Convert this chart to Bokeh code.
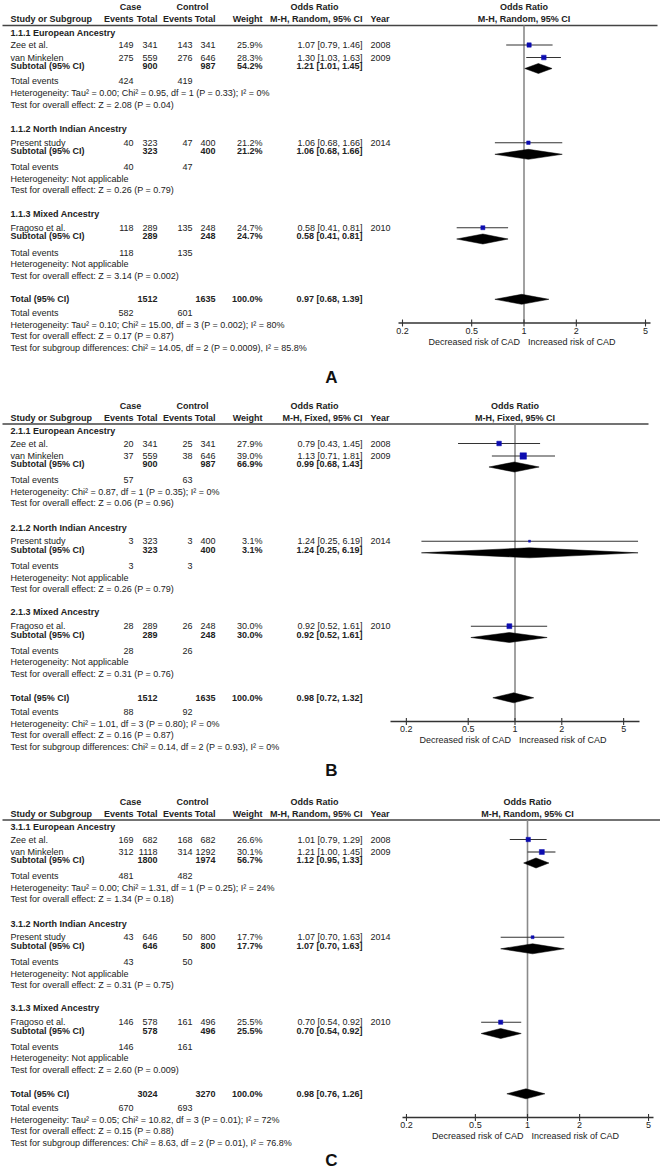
import math
from bokeh.plotting import figure
from bokeh.models import Range1d, LogScale
from bokeh.embed import file_html
from bokeh.resources import INLINE
from bokeh.core.properties import value

# ---------------- data ----------------
studies = ["Zee et al.", "van Minkelen", "Present study", "Fragoso et al."]
years = ["2008", "2009", "2014", "2010"]
ancestries = ["European Ancestry", "North Indian Ancestry", "Mixed Ancestry"]
panel_letters = ["A", "B", "C"]
group_prefixes = ["1.1", "2.1", "3.1"]
methods = ["M-H, Random, 95% CI", "M-H, Fixed, 95% CI", "M-H, Random, 95% CI"]
or_ticks = [0.2, 0.5, 1, 2, 5]
or_tick_labels = ["0.2", "0.5", "1", "2", "5"]
direction_labels = ["Decreased risk of CAD", "Increased risk of CAD"]

# Panel A
a_case_events = [149, 275, 40, 118]
a_case_total = [341, 559, 323, 289]
a_ctrl_events = [143, 276, 47, 135]
a_ctrl_total = [341, 646, 400, 248]
a_weight = [25.9, 28.3, 21.2, 24.7]
a_or = [1.07, 1.30, 1.06, 0.58]
a_lo = [0.79, 1.03, 0.68, 0.41]
a_hi = [1.46, 1.63, 1.66, 0.81]
a_sub_case_total = [900, 323, 289]
a_sub_ctrl_total = [987, 400, 248]
a_sub_weight = [54.2, 21.2, 24.7]
a_sub_or = [1.21, 1.06, 0.58]
a_sub_lo = [1.01, 0.68, 0.41]
a_sub_hi = [1.45, 1.66, 0.81]
a_sub_case_events = [424, 40, 118]
a_sub_ctrl_events = [419, 47, 135]
a_het = ["Tau\u00b2 = 0.00; Chi\u00b2 = 0.95, df = 1 (P = 0.33); I\u00b2 = 0%", "Not applicable", "Not applicable"]
a_z = ["Z = 2.08 (P = 0.04)", "Z = 0.26 (P = 0.79)", "Z = 3.14 (P = 0.002)"]
a_total = [1512, 1635, 100.0, 0.97, 0.68, 1.39, 582, 601]
a_total_het = "Tau\u00b2 = 0.10; Chi\u00b2 = 15.00, df = 3 (P = 0.002); I\u00b2 = 80%"
a_total_z = "Z = 0.17 (P = 0.87)"
a_subgroup = "Chi\u00b2 = 14.05, df = 2 (P = 0.0009), I\u00b2 = 85.8%"

# Panel B
b_case_events = [20, 37, 3, 28]
b_case_total = [341, 559, 323, 289]
b_ctrl_events = [25, 38, 3, 26]
b_ctrl_total = [341, 646, 400, 248]
b_weight = [27.9, 39.0, 3.1, 30.0]
b_or = [0.79, 1.13, 1.24, 0.92]
b_lo = [0.43, 0.71, 0.25, 0.52]
b_hi = [1.45, 1.81, 6.19, 1.61]
b_sub_case_total = [900, 323, 289]
b_sub_ctrl_total = [987, 400, 248]
b_sub_weight = [66.9, 3.1, 30.0]
b_sub_or = [0.99, 1.24, 0.92]
b_sub_lo = [0.68, 0.25, 0.52]
b_sub_hi = [1.43, 6.19, 1.61]
b_sub_case_events = [57, 3, 28]
b_sub_ctrl_events = [63, 3, 26]
b_het = ["Chi\u00b2 = 0.87, df = 1 (P = 0.35); I\u00b2 = 0%", "Not applicable", "Not applicable"]
b_z = ["Z = 0.06 (P = 0.96)", "Z = 0.26 (P = 0.79)", "Z = 0.31 (P = 0.76)"]
b_total = [1512, 1635, 100.0, 0.98, 0.72, 1.32, 88, 92]
b_total_het = "Chi\u00b2 = 1.01, df = 3 (P = 0.80); I\u00b2 = 0%"
b_total_z = "Z = 0.16 (P = 0.87)"
b_subgroup = "Chi\u00b2 = 0.14, df = 2 (P = 0.93), I\u00b2 = 0%"

# Panel C
c_case_events = [169, 312, 43, 146]
c_case_total = [682, 1118, 646, 578]
c_ctrl_events = [168, 314, 50, 161]
c_ctrl_total = [682, 1292, 800, 496]
c_weight = [26.6, 30.1, 17.7, 25.5]
c_or = [1.01, 1.21, 1.07, 0.70]
c_lo = [0.79, 1.00, 0.70, 0.54]
c_hi = [1.29, 1.45, 1.63, 0.92]
c_sub_case_total = [1800, 646, 578]
c_sub_ctrl_total = [1974, 800, 496]
c_sub_weight = [56.7, 17.7, 25.5]
c_sub_or = [1.12, 1.07, 0.70]
c_sub_lo = [0.95, 0.70, 0.54]
c_sub_hi = [1.33, 1.63, 0.92]
c_sub_case_events = [481, 43, 146]
c_sub_ctrl_events = [482, 50, 161]
c_het = ["Tau\u00b2 = 0.00; Chi\u00b2 = 1.31, df = 1 (P = 0.25); I\u00b2 = 24%", "Not applicable", "Not applicable"]
c_z = ["Z = 1.34 (P = 0.18)", "Z = 0.31 (P = 0.75)", "Z = 2.60 (P = 0.009)"]
c_total = [3024, 3270, 100.0, 0.98, 0.76, 1.26, 670, 693]
c_total_het = "Tau\u00b2 = 0.05; Chi\u00b2 = 10.82, df = 3 (P = 0.01); I\u00b2 = 72%"
c_total_z = "Z = 0.15 (P = 0.88)"
c_subgroup = "Chi\u00b2 = 8.63, df = 2 (P = 0.01), I\u00b2 = 76.8%"

panels = [
    dict(ce=a_case_events, ct=a_case_total, ke=a_ctrl_events, kt=a_ctrl_total, w=a_weight,
         o=a_or, lo=a_lo, hi=a_hi, sct=a_sub_case_total, skt=a_sub_ctrl_total, sw=a_sub_weight,
         so=a_sub_or, slo=a_sub_lo, shi=a_sub_hi, sce=a_sub_case_events, ske=a_sub_ctrl_events,
         het=a_het, z=a_z, tot=a_total, thet=a_total_het, tz=a_total_z, sg=a_subgroup),
    dict(ce=b_case_events, ct=b_case_total, ke=b_ctrl_events, kt=b_ctrl_total, w=b_weight,
         o=b_or, lo=b_lo, hi=b_hi, sct=b_sub_case_total, skt=b_sub_ctrl_total, sw=b_sub_weight,
         so=b_sub_or, slo=b_sub_lo, shi=b_sub_hi, sce=b_sub_case_events, ske=b_sub_ctrl_events,
         het=b_het, z=b_z, tot=b_total, thet=b_total_het, tz=b_total_z, sg=b_subgroup),
    dict(ce=c_case_events, ct=c_case_total, ke=c_ctrl_events, kt=c_ctrl_total, w=c_weight,
         o=c_or, lo=c_lo, hi=c_hi, sct=c_sub_case_total, skt=c_sub_ctrl_total, sw=c_sub_weight,
         so=c_sub_or, slo=c_sub_lo, shi=c_sub_hi, sce=c_sub_case_events, ske=c_sub_ctrl_events,
         het=c_het, z=c_z, tot=c_total, thet=c_total_het, tz=c_total_z, sg=c_subgroup),
]

# ---------------- layout / style ----------------
FONT = "Liberation Sans"
INK = "#222222"
BLUE = "#0c0cb0"
FS = "9px"

PANEL_TOP = [6.5, 405, 801]
# (px of OR=1, px per ln unit, axis start px, axis end px, header line end px)
FOREST = [(523.5, 75.5, 398, 650, 657), (514.5, 67.5, 390, 639, 648), (527, 75.2, 402, 653, 660)]
LABEL_Y = [377, 770, 1160]
LABEL_X = 331

STUDY_X, CE_X, CT_X, KE_X, KT_X, W_X, OR_X, YR_X = 10, 133, 157, 192, 215, 262, 362, 370
CASE_CX, CTRL_CX, ORH_CX = 130, 192, 314

OFF_HEAD, OFF_HLINE = 12, 18.5
OFF_G = [25.5, 122, 206.7]
OFF_STUDY = [38, 50.5, 135.7, 220.7]
OFF_SUB = [58.5, 144.3, 229]
OFF_TE = [74, 160.3, 245.7]
OFF_HET = [86, 172.3, 256.7]
OFF_TST = [97.5, 183.3, 268.7]
OFF_TOT, OFF_TOT_TE, OFF_TOT_HET, OFF_TOT_TST, OFF_SG = 292.3, 306, 318, 329, 341
OFF_AXIS, OFF_TICKLAB, OFF_AXLAB = 316, 323.5, 334.5
DIAMOND_H = 5

W, H = 660, 1172
X0, X1 = 0, W
p = figure(width=W, height=H, x_range=Range1d(X0, X1), y_range=Range1d(H, 0),
           output_backend="svg", toolbar_location=None, min_border=0,
           x_axis_location=None, y_axis_location=None)
p.grid.visible = False
p.outline_line_color = None

extra_r, extra_s = {}, {}
for i, (c, s, *_rest) in enumerate(FOREST):
    extra_r[f"or{i}"] = Range1d(math.exp((X0 - c) / s), math.exp((X1 - c) / s))
    extra_s[f"or{i}"] = LogScale()
p.extra_x_ranges = extra_r
p.extra_x_scales = extra_s


def fmt_or(o, lo, hi):
    return f"{o:.2f} [{lo:.2f}, {hi:.2f}]"


texts = {}


def put(key, x, y, t):
    texts.setdefault(key, []).append((x, y, t))


for i, d in enumerate(panels):
    y0 = PANEL_TOP[i]
    rk = f"or{i}"
    c, s, ax0, ax1, hl1 = FOREST[i]
    method = methods[i]

    # header
    put(("default", "center", "bold"), CASE_CX, y0, "Case")
    put(("default", "center", "bold"), CTRL_CX, y0, "Control")
    put(("default", "center", "bold"), ORH_CX, y0, "Odds Ratio")
    yh = y0 + OFF_HEAD
    put(("default", "left", "bold"), STUDY_X, yh, "Study or Subgroup")
    for x, t in [(CE_X, "Events"), (CT_X, "Total"), (KE_X, "Events"), (KT_X, "Total"),
                 (W_X, "Weight"), (OR_X, method)]:
        put(("default", "right", "bold"), x, yh, t)
    put(("default", "left", "bold"), YR_X, yh, "Year")
    put((rk, "center", "bold"), 1, y0, "Odds Ratio")
    put((rk, "center", "bold"), 1, yh, method)

    yl = y0 + OFF_HLINE
    p.segment(x0=[2], y0=[yl], x1=[hl1], y1=[yl], line_color="#444444", line_width=1.4)
    yax = y0 + OFF_AXIS
    p.segment(x0=[1], y0=[yl], x1=[1], y1=[yax], x_range_name=rk, line_color="#8a8a8a", line_width=1.6)

    # studies
    sy, slo, shi, so, ssz = [], [], [], [], []
    for j, name in enumerate(studies):
        y = y0 + OFF_STUDY[j]
        put(("default", "left", "normal"), STUDY_X, y, name)
        for x, v in [(CE_X, d["ce"][j]), (CT_X, d["ct"][j]), (KE_X, d["ke"][j]), (KT_X, d["kt"][j])]:
            put(("default", "right", "normal"), x, y, str(v))
        put(("default", "right", "normal"), W_X, y, f"{d['w'][j]:.1f}%")
        put(("default", "right", "normal"), OR_X, y, fmt_or(d["o"][j], d["lo"][j], d["hi"][j]))
        put(("default", "left", "normal"), YR_X, y, years[j])
        sy.append(y); slo.append(d["lo"][j]); shi.append(d["hi"][j]); so.append(d["o"][j])
        ssz.append(max(2.0, 0.165 * d["w"][j]))
    p.segment(x0=slo, y0=sy, x1=shi, y1=sy, x_range_name=rk, line_color="#333333", line_width=1.1)
    p.scatter(x=so, y=sy, size=ssz, marker="square", x_range_name=rk,
              fill_color=BLUE, line_color=BLUE, line_width=0.5)

    # groups
    dxs, dys = [], []
    for g in range(3):
        put(("default", "left", "bold"), STUDY_X, y0 + OFF_G[g], f"{group_prefixes[i]}.{g + 1} {ancestries[g]}")
        y = y0 + OFF_SUB[g]
        put(("default", "left", "bold"), STUDY_X, y, "Subtotal (95% CI)")
        put(("default", "right", "bold"), CT_X, y, str(d["sct"][g]))
        put(("default", "right", "bold"), KT_X, y, str(d["skt"][g]))
        put(("default", "right", "bold"), W_X, y, f"{d['sw'][g]:.1f}%")
        put(("default", "right", "bold"), OR_X, y, fmt_or(d["so"][g], d["slo"][g], d["shi"][g]))
        yd = y + 3
        dxs.append([d["slo"][g], d["so"][g], d["shi"][g], d["so"][g]])
        dys.append([yd, yd - DIAMOND_H, yd, yd + DIAMOND_H])
        y = y0 + OFF_TE[g]
        put(("default", "left", "normal"), STUDY_X, y, "Total events")
        put(("default", "right", "normal"), CE_X, y, str(d["sce"][g]))
        put(("default", "right", "normal"), KE_X, y, str(d["ske"][g]))
        put(("default", "left", "normal"), STUDY_X, y0 + OFF_HET[g], "Heterogeneity: " + d["het"][g])
        put(("default", "left", "normal"), STUDY_X, y0 + OFF_TST[g], "Test for overall effect: " + d["z"][g])

    # overall
    t = d["tot"]
    y = y0 + OFF_TOT
    put(("default", "left", "bold"), STUDY_X, y, "Total (95% CI)")
    put(("default", "right", "bold"), CT_X, y, str(t[0]))
    put(("default", "right", "bold"), KT_X, y, str(t[1]))
    put(("default", "right", "bold"), W_X, y, f"{t[2]:.1f}%")
    put(("default", "right", "bold"), OR_X, y, fmt_or(t[3], t[4], t[5]))
    dxs.append([t[4], t[3], t[5], t[3]])
    dys.append([y, y - DIAMOND_H, y, y + DIAMOND_H])
    p.patches(xs=dxs, ys=dys, x_range_name=rk, fill_color="black", line_color="black", line_width=0.5)
    y = y0 + OFF_TOT_TE
    put(("default", "left", "normal"), STUDY_X, y, "Total events")
    put(("default", "right", "normal"), CE_X, y, str(t[6]))
    put(("default", "right", "normal"), KE_X, y, str(t[7]))
    put(("default", "left", "normal"), STUDY_X, y0 + OFF_TOT_HET, "Heterogeneity: " + d["thet"])
    put(("default", "left", "normal"), STUDY_X, y0 + OFF_TOT_TST, "Test for overall effect: " + d["tz"])
    put(("default", "left", "normal"), STUDY_X, y0 + OFF_SG, "Test for subgroup differences: " + d["sg"])

    # axis
    p.segment(x0=[ax0], y0=[yax], x1=[ax1], y1=[yax], line_color="#333333", line_width=1.3)
    p.segment(x0=or_ticks, y0=[yax - 3.5] * 5, x1=or_ticks, y1=[yax + 3.5] * 5,
              x_range_name=rk, line_color="#333333", line_width=1.1)
    for tv, tl in zip(or_ticks, or_tick_labels):
        put((rk, "center", "normal"), tv, y0 + OFF_TICKLAB, tl)
    p.text(x=[1], y=[y0 + OFF_AXLAB], text=[direction_labels[0]], x_range_name=rk, x_offset=-4,
           text_align="right", text_baseline="middle", text_font=value(FONT), text_font_size=FS,
           text_color=INK)
    p.text(x=[1], y=[y0 + OFF_AXLAB], text=[direction_labels[1]], x_range_name=rk, x_offset=4,
           text_align="left", text_baseline="middle", text_font=value(FONT), text_font_size=FS,
           text_color=INK)

    # panel letter
    p.text(x=[LABEL_X], y=[LABEL_Y[i]], text=[panel_letters[i]], text_align="center",
           text_baseline="middle", text_font=value(FONT), text_font_size="17px",
           text_font_style="bold", text_color="#111111")

for (rng, align, style), items in texts.items():
    xs, ys, ts = zip(*items)
    p.text(x=list(xs), y=list(ys), text=list(ts), x_range_name=rng, text_align=align,
           text_baseline="middle", text_font=value(FONT), text_font_size=FS,
           text_font_style=style, text_color=INK)

open("out.html", "w").write(file_html(p, INLINE))
